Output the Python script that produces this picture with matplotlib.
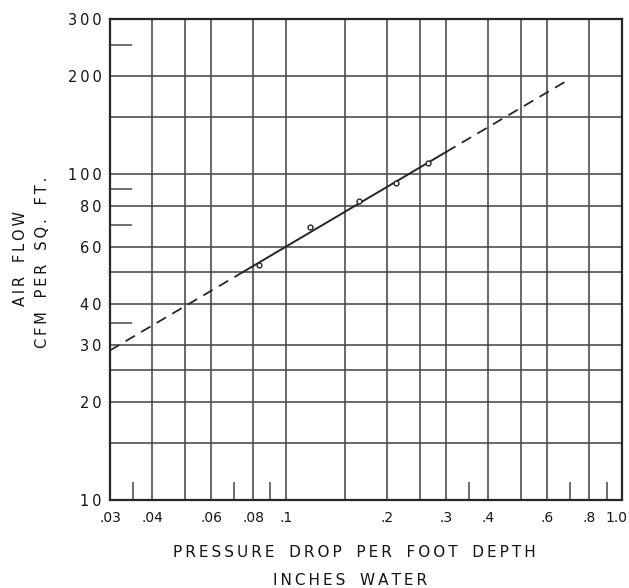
import matplotlib.pyplot as plt
import matplotlib.transforms as mtransforms
from matplotlib.ticker import FixedLocator, NullFormatter

# measured points
pressure_drop = [0.083, 0.118, 0.165, 0.212, 0.265]
air_flow = [52.5, 69, 83, 94, 108]

# fitted line: solid over the test range, dashed extensions beyond it
fit_solid_x = [0.075, 0.30]
fit_solid_y = [50.3, 117.2]
fit_low_x = [0.03, 0.075]
fit_low_y = [28.8, 50.3]
fit_high_x = [0.30, 0.68]
fit_high_y = [117.2, 193.0]

x_ticks = [0.03, 0.04, 0.06, 0.08, 0.1, 0.2, 0.3, 0.4, 0.6, 0.8, 1.0]
x_tick_labels = [".03", ".04", ".06", ".08", ".1", ".2", ".3", ".4", ".6", ".8", "1.0"]
x_grid = [0.04, 0.05, 0.06, 0.08, 0.1, 0.15, 0.2, 0.25, 0.3, 0.4, 0.5, 0.6, 0.8]
x_short = [0.035, 0.07, 0.09, 0.35, 0.7, 0.9]

y_ticks = [10, 20, 30, 40, 60, 80, 100, 200, 300]
y_tick_labels = ["10", "20", "30", "40", "60", "80", "100", "200", "300"]
y_grid = [15, 20, 25, 30, 40, 50, 60, 80, 100, 150, 200]
y_short = [35, 70, 90, 250]

ink = "#262626"
text_ink = "#141414"
grid_ink = "#474747"


def spaced(text):
    # stencil-style lettering: open up the letter spacing with thin spaces
    return "\u2009".join(text)


fig = plt.figure(figsize=(6.29, 5.88), dpi=100)
ax = fig.add_axes([0.1749, 0.1497, 0.8140, 0.8180])
ax.set_xscale("log")
ax.set_yscale("log")
ax.set_xlim(0.03, 1.0)
ax.set_ylim(10, 300)

for gx in x_grid:
    ax.axvline(gx, color=grid_ink, linewidth=1.15, zorder=1)
for gy in y_grid:
    ax.axhline(gy, color=grid_ink, linewidth=1.15, zorder=1)

dash = (0, (6, 4))
ax.plot(fit_low_x, fit_low_y, color=ink, linewidth=1.3, linestyle=dash, zorder=3)
ax.plot(fit_high_x, fit_high_y, color=ink, linewidth=1.3, linestyle=dash, zorder=3)
ax.plot(fit_solid_x, fit_solid_y, color=ink, linewidth=1.4, zorder=3)
ax.plot(pressure_drop, air_flow, linestyle="none", marker="o", markersize=3.5,
        markerfacecolor="white", markeredgecolor=ink, markeredgewidth=1.0, zorder=4)

ax.xaxis.set_major_locator(FixedLocator(x_ticks))
ax.xaxis.set_minor_locator(FixedLocator(x_short))
ax.xaxis.set_minor_formatter(NullFormatter())
ax.set_xticklabels(x_tick_labels)
ax.yaxis.set_major_locator(FixedLocator(y_ticks))
ax.yaxis.set_minor_locator(FixedLocator(y_short))
ax.yaxis.set_minor_formatter(NullFormatter())
ax.set_yticklabels([spaced(s) for s in y_tick_labels])

ax.tick_params(which="major", length=0, labelcolor=text_ink)
ax.tick_params(axis="x", which="major", labelsize=10, pad=8)
ax.tick_params(axis="y", which="major", labelsize=10.5, pad=6)
ax.tick_params(axis="x", which="minor", direction="in", length=13, width=1.1, color=grid_ink)
ax.tick_params(axis="y", which="minor", direction="in", length=16, width=1.1, color=grid_ink)

# keep the "1.0" label inside the figure edge
last = ax.get_xticklabels()[-1]
last.set_transform(last.get_transform() +
                   mtransforms.ScaledTranslation(-4 / 72, 0, fig.dpi_scale_trans))

for side in ax.spines.values():
    side.set_color(ink)
    side.set_linewidth(1.6)

fig.text(0.0318, 0.561, spaced("AIR") + "   " + spaced("FLOW"), rotation=90,
         ha="center", va="center", fontsize=10.5, color=text_ink)
fig.text(0.0668, 0.554, "   ".join(spaced(w) for w in ["CFM", "PER", "SQ.", "FT."]),
         rotation=90, ha="center", va="center", fontsize=10.5, color=text_ink)
fig.text(0.563, 0.061, "   ".join(spaced(w) for w in ["PRESSURE", "DROP", "PER", "FOOT", "DEPTH"]),
         ha="center", va="center", fontsize=11, color=text_ink)
fig.text(0.556, 0.0136, "   ".join(spaced(w) for w in ["INCHES", "WATER"]),
         ha="center", va="center", fontsize=11, color=text_ink)

fig.savefig("out.png", dpi=100)
